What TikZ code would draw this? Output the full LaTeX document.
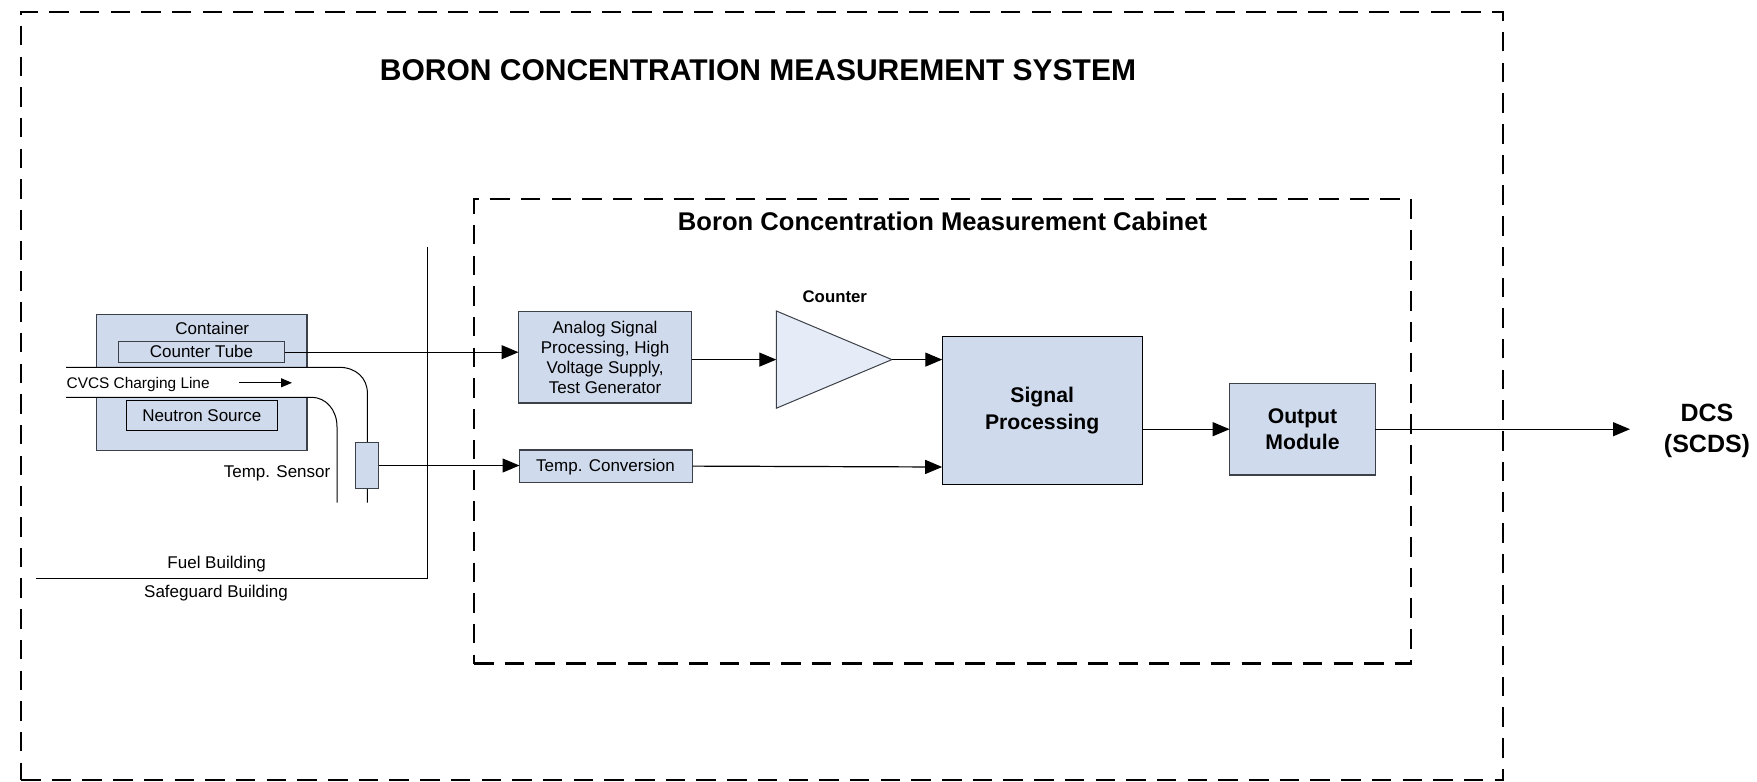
\documentclass[tikz,border=0pt]{standalone}
\usepackage{fontspec}
\setmainfont{Liberation Sans}
\usetikzlibrary{arrows.meta,shapes.geometric,calc}
\definecolor{boxfill}{HTML}{CFDAEC}
\definecolor{trifill}{HTML}{E6ECF7}
\definecolor{boxline}{HTML}{3C4048}
\tikzset{
  frame/.style={draw=black,line width=2.3pt,dash pattern=on 19.5pt off 11.2pt},
  bluebox/.style={draw=boxline,fill=boxfill,line width=1.2pt,inner sep=0pt,outer sep=0pt,align=center,font=\fontsize{17}{20.2}\selectfont},
  boldbox/.style={bluebox,draw=black,font=\fontsize{21.2}{25.8}\bfseries\selectfont},
  wire/.style={draw=black,line width=1pt},
  flow/.style={draw=black,line width=1.2pt,-{Triangle[length=17pt,width=14pt]}},
  smallflow/.style={draw=black,line width=1pt,-{Triangle[length=11pt,width=9pt]}},
  label/.style={inner sep=0pt,font=\fontsize{17}{20}\selectfont},
  boldlabel/.style={inner sep=0pt,align=center,font=\fontsize{25}{30.6}\bfseries\selectfont},
}
\begin{document}
\begin{tikzpicture}[x=1pt,y=-1pt]
\useasboundingbox (0,0) rectangle (1757,782);
% frames
\node[frame,minimum width=1481.8pt,minimum height=768pt,inner sep=0pt,outer sep=0pt] (outer) at (761.9,396) {};
\node[frame,minimum width=936.8pt,minimum height=464.5pt,inner sep=0pt,outer sep=0pt] (inner) at (942.4,431.25) {};
\node[inner sep=0pt,font=\fontsize{30}{36}\bfseries\selectfont] (title) at (758,70.3) {BORON CONCENTRATION MEASUREMENT SYSTEM};
\node[inner sep=0pt,font=\fontsize{25.6}{30}\bfseries\selectfont] (subtitle) at (942.5,221) {Boron Concentration Measurement Cabinet};
% container
\node[bluebox,minimum width=210.6pt,minimum height=136pt] (cont) at (201.7,382.3) {};
\node[label] (contl) at (212.3,328.3) {Container};
\node[bluebox,minimum width=166pt,minimum height=21pt] (ct) at (201.8,352.2) {};
\node[label] (ctl) at (201.5,351) {Counter Tube};
\node[bluebox,draw=black,minimum width=150.8pt,minimum height=30.4pt] (ns) at (201.8,415.5) {Neutron Source};
% pipe
\coordinate (pu0) at (66,367.3);
\coordinate (pu1) at (339,367.3);
\coordinate (pu2) at (367.4,393.3);
\coordinate (pu3) at (367.4,502.7);
\coordinate (pl0) at (66,397.3);
\coordinate (pl1) at (311.6,397.3);
\coordinate (pl2) at (337,426.7);
\coordinate (pl3) at (337,502.7);
\fill[white] (pu0) -- (pu1) .. controls (356,367.3) and (367.4,378) .. (pu2) -- (pu3) -- (pl3) -- (pl2) .. controls (337,410) and (326,397.3) .. (pl1) -- (pl0) -- cycle;
\draw[wire] (pu0) -- (pu1) .. controls (356,367.3) and (367.4,378) .. (pu2) -- (pu3);
\draw[wire] (pl0) -- (pl1) .. controls (326,397.3) and (337,410) .. (pl2) -- (pl3);
\node[label,anchor=west,font=\fontsize{15.4}{20}\selectfont] (cvcs) at (66.5,384.2) {CVCS Charging Line};
\coordinate (fa) at (239,382.8);
\coordinate (fb) at (292,382.8);
\draw[smallflow] (fa) -- (fb);
% sensor
\node[bluebox,minimum width=23.1pt,minimum height=45.4pt] (sensor) at (367.3,465.5) {};
\node[label,anchor=east] (sl) at (330.5,473.3) {Temp. Sensor};
% wall
\coordinate (w0) at (427.7,246.7);
\coordinate (w1) at (427.7,578.5);
\coordinate (w2) at (36,578.5);
\draw[wire] (w0) -- (w1) -- (w2);
\node[label] (fuel) at (216.6,563.8) {Fuel Building};
\node[label] (safe) at (216,593.3) {Safeguard Building};
% cabinet blocks
\node[bluebox,minimum width=173.2pt,minimum height=91.3pt] (an) at (605.1,357.3) {Analog Signal\\Processing, High\\Voltage Supply,\\Test Generator};
\node[bluebox,minimum width=173pt,minimum height=32.3pt] (tc) at (606,466.1) {};
\node[label] (tcl) at (605.5,466.8) {Temp. Conversion};
\node[isosceles triangle,isosceles triangle stretches,shape border rotate=0,draw=boxline,fill=trifill,line width=1pt,inner sep=0pt,outer sep=0pt,minimum width=97.3pt,minimum height=115.6pt] (amp) at (808.6,359.6) {};
\node[inner sep=0pt,font=\fontsize{16.8}{20}\bfseries\selectfont] (ampl) at (834.8,296.7) {Counter};
\node[boldbox,minimum width=199.9pt,minimum height=147.6pt] (sp) at (1042.2,410.5) {\raisebox{-2.5pt}{Signal}\\\raisebox{-3pt}{Processing}};
\node[boldbox,draw=boxline,minimum width=145.7pt,minimum height=91.7pt] (om) at (1302.5,429.2) {Output\\Module};
\node[boldlabel] (dcs) at (1707,431) {DCS\\(SCDS)};
\coordinate (dcsin) at (1630,429.2);
\coordinate (tcin) at (942.2,467);
% connectors
\draw[flow] (ct.east) -- (ct.east -| an.west);
\draw[flow] (sensor.east) -- (sensor.east -| tc.west);
\draw[flow] (an.east |- amp.apex) -- (amp.west |- amp.apex);
\draw[flow] (amp.apex) -- (amp.apex -| sp.west);
\draw[flow] (tc.east) -- (tcin);
\draw[flow] (om.west -| sp.east) -- (om.west);
\draw[flow] (om.east) -- (dcsin);
\end{tikzpicture}
\end{document}
